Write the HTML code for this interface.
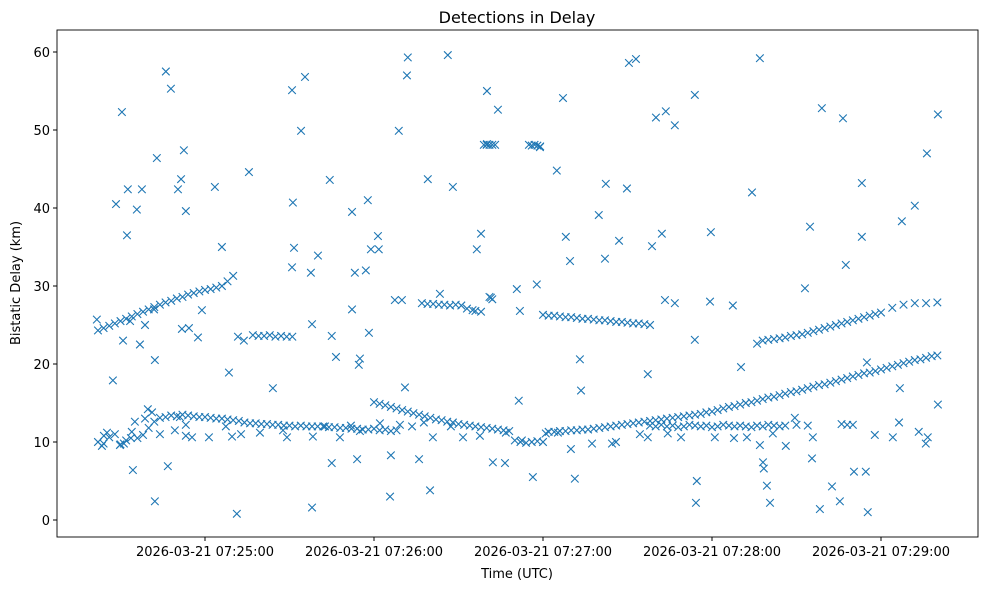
<!DOCTYPE html>
<html><head><meta charset="utf-8"><style>
body{margin:0;background:#fff;}
svg{display:block;font-family:"DejaVu Sans","Liberation Sans",sans-serif;}
</style></head><body>
<svg id="chart" width="989" height="590" xmlns="http://www.w3.org/2000/svg">
<rect x="0" y="0" width="989" height="590" fill="#fff"/>
<text x="517" y="23" font-size="16" text-anchor="middle">Detections in Delay</text>
<text x="517" y="578" font-size="13" text-anchor="middle">Time (UTC)</text>
<text transform="translate(20,283) rotate(-90)" font-size="13" text-anchor="middle">Bistatic Delay (km)</text>
<g id="marks"></g>
<g id="axes"></g>
</svg>
<script>
// seconds after 07:24:00 UTC ; delay in km
const xTickSeconds=[60,120,180,240,300];
const xTickLabels=["2026-03-21 07:25:00","2026-03-21 07:26:00","2026-03-21 07:27:00","2026-03-21 07:28:00","2026-03-21 07:29:00"];
const yTicks=[0,10,20,30,40,50,60];
const trackATimes=[22,24,26,28,30,32,34,36,38,40,42,44,46,48,50,52,54,56,58,60,62,64,66,68,70];
const trackADelays=[24.3,24.6,24.9,25.2,25.5,25.8,26.1,26.4,26.7,27.0,27.3,27.6,27.9,28.1,28.4,28.6,28.9,29.1,29.3,29.5,29.6,29.8,30.0,30.6,31.3];
const trackBTimes=[22,24,26,28,30,32,34,36,38,40,42,44,46,48,50,52,54,56,58,60,62,64,66,68,70,72,74,76,78,80,82,84,86,88,90,92,94,96,98,100,102,104,106,108,110,112,114,116,118,120,122,124,126,128];
const trackBDelays=[10.0,9.8,10.6,11.0,9.7,10.2,11.3,10.5,10.9,11.8,12.6,13.1,13.2,13.4,13.3,13.5,13.4,13.3,13.2,13.2,13.1,13.0,13.0,12.9,12.8,12.7,12.5,12.4,12.4,12.3,12.3,12.2,12.2,12.1,12.1,12.0,12.1,12.0,12.0,12.0,12.0,11.9,11.9,11.8,11.8,11.7,11.7,11.6,11.6,11.7,11.5,11.6,11.4,11.5];
const trackCTimes=[120,122,124,126,128,130,132,134,136,138,140,142,144,146,148,150,152,154,156,158,160,162,164,166,168,170,172,174,176,178,180,182,184,186,188,190,192,194,196,198,200,202,204,206,208,210,212,214,216,218,220,222,224,226,228,230,232,234,236,238,240,242,244,246,248,250,252,254,256,258,260,262,264,266,268,270,272,274,276,278,280,282,284,286,288,290,292,294,296,298,300,302,304,306,308,310,312,314,316,318,320];
const trackCDelays=[15.1,14.9,14.7,14.5,14.3,14.1,13.9,13.7,13.5,13.3,13.1,12.9,12.8,12.6,12.5,12.3,12.2,12.1,12.0,11.9,11.8,11.7,11.6,11.5,11.4,10.2,10.0,9.9,10.0,10.1,10.0,11.3,11.3,11.4,11.4,11.5,11.5,11.6,11.6,11.7,11.8,11.9,12.0,12.1,12.2,12.3,12.4,12.5,12.6,12.7,12.8,12.9,13.0,13.1,13.2,13.3,13.4,13.5,13.6,13.8,13.9,14.1,14.3,14.5,14.6,14.8,15.0,15.1,15.3,15.5,15.7,15.8,16.0,16.2,16.4,16.5,16.7,16.9,17.1,17.3,17.4,17.6,17.8,18.0,18.2,18.4,18.6,18.8,18.9,19.1,19.3,19.5,19.7,19.9,20.1,20.3,20.5,20.6,20.8,21.0,21.1];
const trackDTimes=[137,139,141,143,145,147,149,151,153,155,156,158,161,162,77,79,81,83,85,87,89,91];
const trackDDelays=[27.8,27.7,27.7,27.6,27.6,27.5,27.6,27.5,27.1,26.9,26.8,26.7,28.6,28.3,23.7,23.6,23.6,23.7,23.5,23.6,23.5,23.5];
const trackETimes=[180,182,184,186,188,190,192,194,196,198,200,202,204,206,208,210,212,214,216,218,159,160,161,162,163,175,176,177,178,179];
const trackEDelays=[26.3,26.2,26.2,26.1,26.0,26.0,25.9,25.8,25.8,25.7,25.6,25.6,25.5,25.4,25.4,25.3,25.2,25.2,25.1,25.0,48.1,48.1,48.1,48.1,48.1,48.1,48.0,48.1,48.0,47.9];
const trackFTimes=[256,258,260,262,264,266,268,270,272,274,276,278,280,282,284,286,288,290,292,294,296,298,300,304,308,312,316,320];
const trackFDelays=[22.6,23.0,23.1,23.2,23.3,23.4,23.6,23.7,23.8,24.0,24.2,24.4,24.6,24.8,25.0,25.2,25.4,25.6,25.8,26.0,26.2,26.4,26.6,27.2,27.6,27.8,27.8,27.9];
const trackGTimes=[218,220,222,224,226,228,230,232,234,236,238,240,242,244,246,248,250,252,254,256,258,260,262,264,266,270,274,286,288,290];
const trackGDelays=[12.1,12.0,12.2,12.0,12.1,11.9,12.0,12.2,12.1,12.0,12.1,11.9,12.0,12.2,12.1,12.0,12.1,12.0,11.9,12.1,12.0,12.2,12.1,12.0,12.1,12.2,12.1,12.3,12.2,12.2];
const outlierTimes=[21.6,23.4,27.3,28.4,30.5,32.3,32.6,34.4,35.8,37.6,36.9,39.7,42.2,42.9,42.2,46.1,47.9,46.8,50.4,51.5,52.5,53.2,51.8,54.3,57.5,58.9,63.5,66,68.5,71.3,75.6,71.7,73.8,84.1,90.9,91.2,91.6,94.1,95.5,90.9,97.6,98,98,100.1,104.3,105,106.5,105,112.2,112.2,113.2,114,115,114.6,117.8,117.1,118.2,118.9,121.4,121.7,125.7,126,127.4,128.8,129.9,131,131.7,132,136,139.1,139.9,143.4,146.2,148,156.5,158,160.1,160.1,161.5,162.2,164,166.5,170.7,171.4,171.8,176.4,178.9,177.8,184.9,187.1,188.1,189.6,189.9,191.3,193.1,193.5,199.8,202,202.3,207,209.8,210.5,213,217.2,218.7,220.1,222.2,223.6,223.3,226.8,226.8,233.9,234.6,234.3,233.9,239.3,239.6,247.4,250.3,254.2,257,258.1,258.4,259.5,260.6,273,274.8,275.5,278.3,279,282.6,285.4,286.5,287.5,290.4,293.2,293.2,294.6,295.3,295,297.8,306.7,307.4,312,313.4,316.3,320.2,320.2,315.9,316.6,304.2,306.4,266.2,269.4,275.8,257,261.6,252.4,247.8,241,229,224.3,217.2,214.4,205.9,204.5,197.4,185.3,181,172.5,166.8,157.6,151.6,147.3,140.9,137.7,133.5,129.2,122.1,115,111.8,107.9,102.6,98.3,89.1,87.7,79.5,72.8,69.6,67.4,61.4,53.2,55.4,51.1,49.3,44,41.2,38.7,35.1,33.7,31.2,29.8,25.2,24.1,30.9,33.4,38.7,41.9,53.2];
const outlierDelays=[25.7,9.5,17.9,40.5,52.3,36.5,42.4,6.4,39.8,42.4,22.5,14.2,2.4,46.4,20.5,57.5,55.3,6.9,42.4,43.7,47.4,39.6,24.5,24.6,23.4,26.9,42.7,35,18.9,0.8,44.6,23.5,23,16.9,55.1,40.7,34.9,49.9,56.8,32.4,31.7,25.1,1.6,33.9,43.6,23.6,20.9,7.3,27,39.5,31.7,7.8,20.7,19.9,41,32,24,34.7,36.4,34.7,3,8.3,28.2,49.9,28.2,17,57,59.3,7.8,43.7,3.8,29,59.6,42.7,34.7,36.7,55,48.2,28.5,7.4,52.6,7.3,29.6,15.3,26.8,5.5,47.8,30.2,44.8,54.1,36.3,33.2,9.1,5.3,20.6,16.6,39.1,33.5,43.1,35.8,42.5,58.6,59.1,18.7,35.1,51.6,36.7,52.4,28.2,50.6,27.8,54.5,5,2.2,23.1,28,36.9,27.5,19.6,42,59.2,7.4,6.6,4.4,2.2,29.7,37.6,7.9,1.4,52.8,4.3,2.4,51.5,32.7,6.2,43.2,36.3,6.2,1,20.2,10.9,16.9,38.3,40.3,11.3,47,52,14.8,9.8,10.6,10.6,12.5,9.5,13.1,10.6,9.6,11.1,10.6,10.5,10.6,10.6,11.1,10.6,11,10,9.8,9.8,11.2,11.1,10.2,11.2,10.8,10.6,12,10.6,12.5,12,12.2,12.4,11.4,12.1,10.6,12,10.7,10.6,11.5,11.2,11,10.7,12,10.6,10.8,10.6,13.2,11.5,11,13.8,13,12.6,10.5,9.8,9.6,11.2,10.8,23,25.5,25,27,12.2];

const L=57,R=978,T=30,B=537;
function xScale(s){return 205+(s-60)*169/60;}
function yScale(v){return 520-v*7.8;}
const NS="http://www.w3.org/2000/svg";
const marks=document.getElementById('marks');
const axes=document.getElementById('axes');
const times=[].concat(trackATimes,trackBTimes,trackCTimes,trackDTimes,trackETimes,trackFTimes,trackGTimes,outlierTimes);
const delays=[].concat(trackADelays,trackBDelays,trackCDelays,trackDDelays,trackEDelays,trackFDelays,trackGDelays,outlierDelays);
for(let i=0;i<times.length;i++){
  const x=xScale(times[i]),y=yScale(delays[i]),r=3.8;
  const p=document.createElementNS(NS,'path');
  p.setAttribute('d',`M${x-r},${y-r}L${x+r},${y+r}M${x-r},${y+r}L${x+r},${y-r}`);
  p.setAttribute('stroke','#1f77b4');p.setAttribute('stroke-width','1.1');p.setAttribute('fill','none');
  
  
  marks.appendChild(p);
}
const frame=document.createElementNS(NS,'rect');
frame.setAttribute('x',L);frame.setAttribute('y',T);frame.setAttribute('width',R-L);frame.setAttribute('height',B-T);
frame.setAttribute('fill','none');frame.setAttribute('stroke','#000');frame.setAttribute('stroke-width','0.9');


axes.appendChild(frame);
yTicks.forEach(v=>{
  const y=yScale(v);
  const l=document.createElementNS(NS,'line');
  l.setAttribute('x1',L-4);l.setAttribute('x2',L);l.setAttribute('y1',y);l.setAttribute('y2',y);l.setAttribute('stroke','#000');
  
  
  axes.appendChild(l);
  const t=document.createElementNS(NS,'text');
  t.setAttribute('x',L-7);t.setAttribute('y',y+5);t.setAttribute('font-size','13');t.setAttribute('text-anchor','end');
  t.textContent=v;
  
  
  axes.appendChild(t);
});
xTickSeconds.forEach((s,i)=>{
  const x=xScale(s);
  const l=document.createElementNS(NS,'line');
  l.setAttribute('x1',x);l.setAttribute('x2',x);l.setAttribute('y1',B);l.setAttribute('y2',B+4);l.setAttribute('stroke','#000');
  
  
  axes.appendChild(l);
  const t=document.createElementNS(NS,'text');
  t.setAttribute('x',x);t.setAttribute('y',B+19);t.setAttribute('font-size','13');t.setAttribute('text-anchor','middle');
  t.textContent=xTickLabels[i];
  
  
  axes.appendChild(t);
});
</script>
</body></html>
